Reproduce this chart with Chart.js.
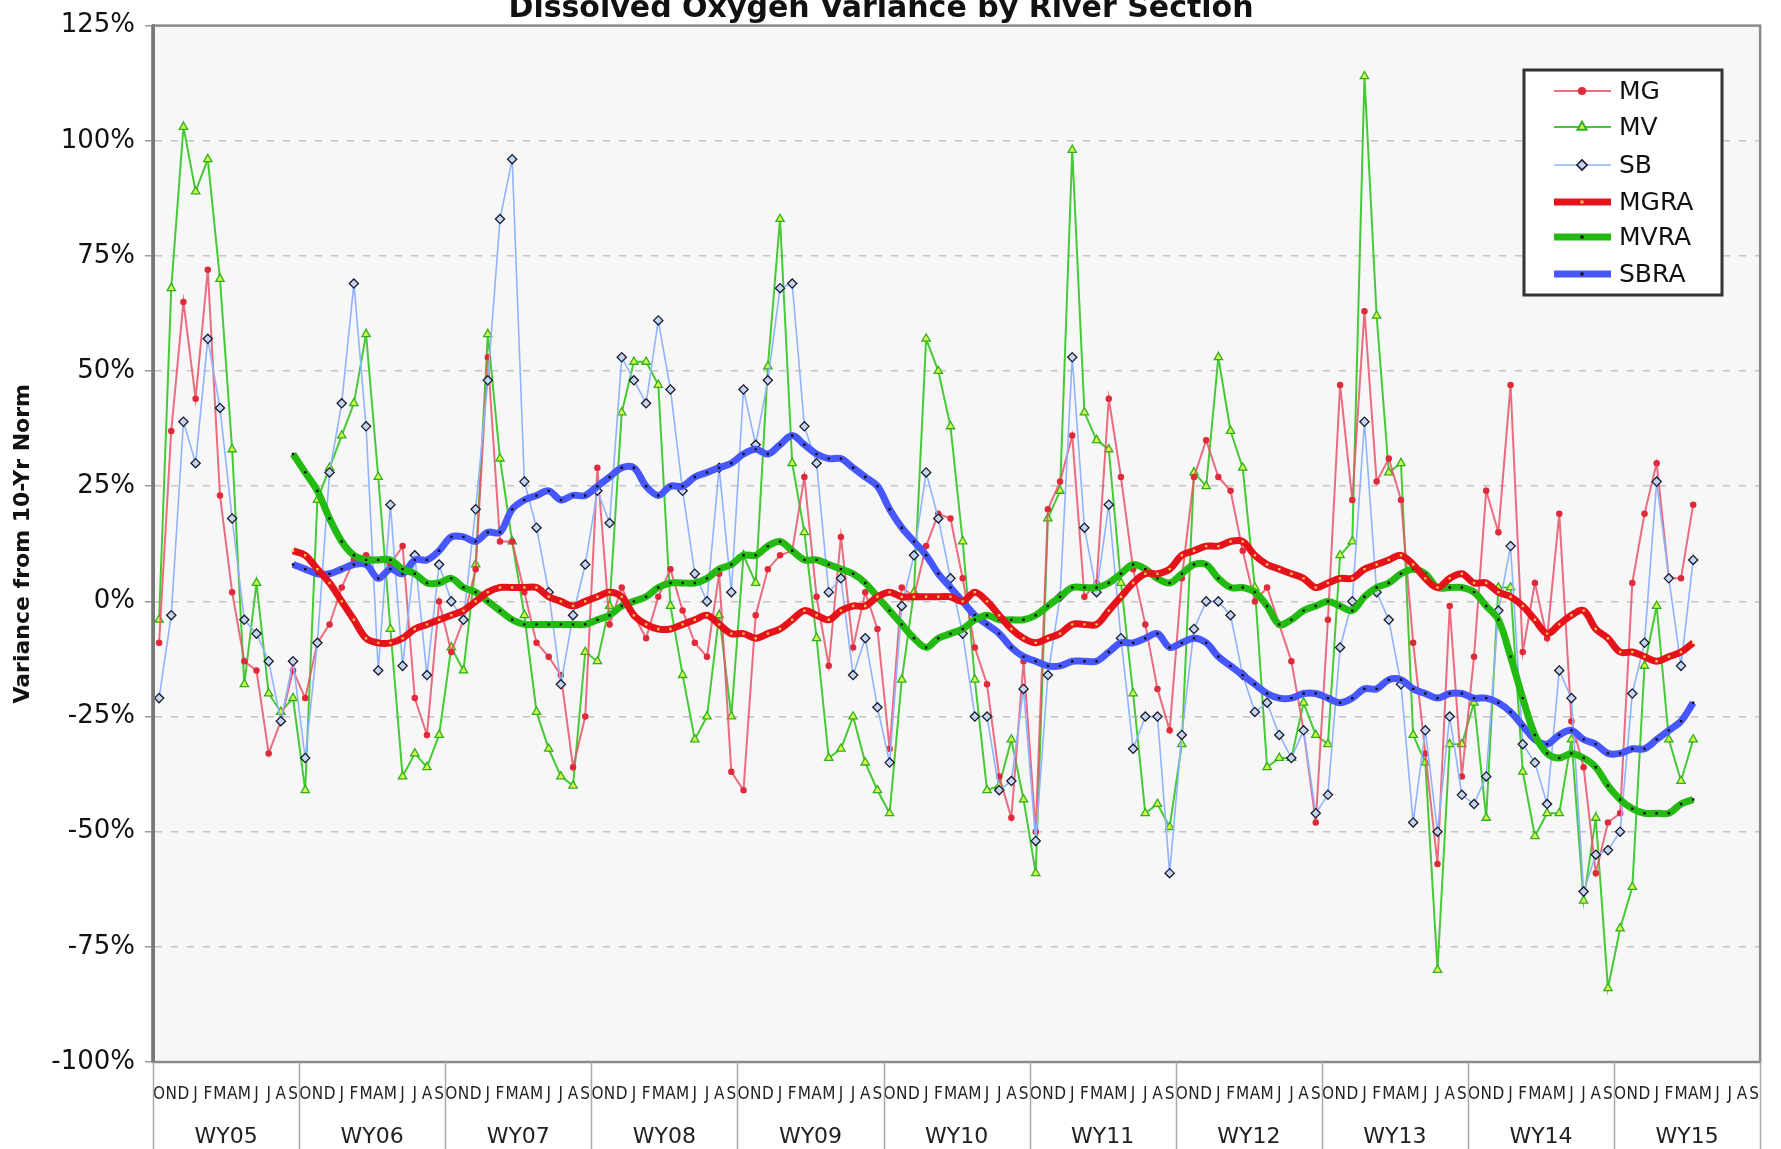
<!DOCTYPE html>
<html>
<head>
<meta charset="utf-8">
<title>Dissolved Oxygen Variance by River Section</title>
<script src="https://cdn.jsdelivr.net/npm/chart.js@4.4.1/dist/chart.umd.min.js"></script>
<style>
  html, body { margin: 0; padding: 0; background: #fff; }
  #wrap { width: 1781px; height: 1149px; position: relative; }
</style>
</head>
<body>
<div id="wrap"><canvas id="doChart"></canvas></div>
<script>
// Water years and month letters (Oct..Sep)
const waterYears = ["WY05", "WY06", "WY07", "WY08", "WY09", "WY10", "WY11", "WY12", "WY13", "WY14", "WY15"];
const monthLetters = ["O", "N", "D", "J", "F", "M", "A", "M", "J", "J", "A", "S"];
const yTickValues = [125, 100, 75, 50, 25, 0, -25, -50, -75, -100];

// Monthly variance from 10-yr norm (%), Oct 2004 .. Apr 2015
const mgValues = [
  -9, 37, 65, 44, 72, 23, 2, -13, -15, -33, -26, -15,
  -21, -9, -5, 3, 9, 10, 9, 8, 12, -21, -29, 0,
  -11, -4, 7, 53, 13, 13, 2, -9, -12, -16, -36, -25,
  29, -5, 3, -3, -8, 1, 7, -2, -9, -12, 6, -37,
  -41, -3, 7, 10, 11, 27, 1, -14, 14, -10, 2, -6,
  -32, 3, 1, 12, 19, 18, 5, -10, -18, -38, -47, -13,
  -50, 20, 26, 36, 1, 4, 44, 27, 7, -5, -19, -28,
  5, 27, 35, 27, 24, 11, 0, 3, -5, -13, -28, -48,
  -4, 47, 22, 63, 26, 31, 22, -9, -33, -57, -1, -38,
  -12, 24, 15, 47, -11, 4, -8, 19, -26, -36, -59, -48,
  -46, 4, 19, 30, 5, 5, 21
];
const mvValues = [
  -4, 68, 103, 89, 96, 70, 33, -18, 4, -20, -24, -21,
  -41, 22, 29, 36, 43, 58, 27, -6, -38, -33, -36, -29,
  -10, -15, 8, 58, 31, 13, -3, -24, -32, -38, -40, -11,
  -13, -1, 41, 52, 52, 47, -1, -16, -30, -25, -3, -25,
  10, 4, 51, 83, 30, 15, -8, -34, -32, -25, -35, -41,
  -46, -17, 2, 57, 50, 38, 13, -17, -41, -40, -30, -43,
  -59, 18, 24, 98, 41, 35, 33, 4, -20, -46, -44, -49,
  -31, 28, 25, 53, 37, 29, 3, -36, -34, -34, -22, -29,
  -31, 10, 13, 114, 62, 28, 30, -29, -35, -80, -31, -31,
  -22, -47, 3, 3, -37, -51, -46, -46, -30, -65, -47, -84,
  -71, -62, -14, -1, -30, -39, -30
];
const sbValues = [
  -21, -3, 39, 30, 57, 42, 18, -4, -7, -13, -26, -13,
  -34, -9, 28, 43, 69, 38, -15, 21, -14, 10, -16, 8,
  0, -4, 20, 48, 83, 96, 26, 16, 2, -18, -3, 8,
  24, 17, 53, 48, 43, 61, 46, 24, 6, 0, 29, 2,
  46, 34, 48, 68, 69, 38, 30, 2, 5, -16, -8, -23,
  -35, -1, 10, 28, 18, 5, -7, -25, -25, -41, -39, -19,
  -52, -16, 1, 53, 16, 2, 21, -8, -32, -25, -25, -59,
  -29, -6, 0, 0, -3, -16, -24, -22, -29, -34, -28, -46,
  -42, -10, 0, 39, 2, -4, -18, -48, -28, -50, -25, -42,
  -44, -38, -2, 12, -31, -35, -44, -15, -21, -63, -55, -54,
  -50, -20, -9, 26, 5, -14, 9
];

// 12-month running averages (start in Sep of WY05)
const mgraValues = [
  null, null, null, null, null, null, null, null, null, null, null, 11,
  10, 7, 4, 0, -4, -8, -9, -9, -8, -6, -5, -4,
  -3, -2, 0, 2, 3, 3, 3, 3, 1, 0, -1, 0,
  1, 2, 1, -3, -5, -6, -6, -5, -4, -3, -5, -7,
  -7, -8, -7, -6, -4, -2, -3, -4, -2, -1, -1, 1,
  2, 1, 1, 1, 1, 1, 0, 2, 0, -3, -6, -8,
  -9, -8, -7, -5, -5, -5, -2, 1, 4, 6, 6, 7,
  10, 11, 12, 12, 13, 13, 10, 8, 7, 6, 5, 3,
  4, 5, 5, 7, 8, 9, 10, 8, 5, 3, 5, 6,
  4, 4, 2, 1, -1, -4, -7, -5, -3, -2, -6, -8,
  -11, -11, -12, -13, -12, -11, -9
];
const mvraValues = [
  null, null, null, null, null, null, null, null, null, null, null, 32,
  28, 24, 18, 13, 10, 9, 9, 9, 7, 6, 4, 4,
  5, 3, 2, 0, -2, -4, -5, -5, -5, -5, -5, -5,
  -4, -3, -1, 0, 1, 3, 4, 4, 4, 5, 7, 8,
  10, 10, 12, 13, 11, 9, 9, 8, 7, 6, 4, 1,
  -2, -5, -8, -10, -8, -7, -6, -4, -3, -4, -4, -4,
  -3, -1, 1, 3, 3, 3, 4, 6, 8, 7, 5, 4,
  6, 8, 8, 5, 3, 3, 2, -1, -5, -4, -2, -1,
  0, -1, -2, 1, 3, 4, 6, 7, 6, 3, 3, 3,
  2, -1, -4, -12, -21, -29, -33, -34, -33, -34, -36, -40,
  -43, -45, -46, -46, -46, -44, -43
];
const sbraValues = [
  null, null, null, null, null, null, null, null, null, null, null, 8,
  7, 6, 6, 7, 8, 8, 5, 7, 6, 9, 9, 11,
  14, 14, 13, 15, 15, 20, 22, 23, 24, 22, 23, 23,
  25, 27, 29, 29, 25, 23, 25, 25, 27, 28, 29, 30,
  32, 33, 32, 34, 36, 34, 32, 31, 31, 29, 27, 25,
  20, 16, 13, 10, 6, 3, 0, -3, -5, -7, -10, -12,
  -13, -14, -14, -13, -13, -13, -11, -9, -9, -8, -7, -10,
  -9, -8, -9, -12, -14, -16, -18, -20, -21, -21, -20, -20,
  -21, -22, -21, -19, -19, -17, -17, -19, -20, -21, -20, -20,
  -21, -21, -22, -24, -27, -30, -31, -29, -28, -30, -31, -33,
  -33, -32, -32, -30, -28, -26, -22
];

const monthLabels = waterYears.flatMap(() => monthLetters);
const FONT = "'DejaVu Sans', Verdana, sans-serif";

function thinLine(label, data, color, width, style, radius, fill, edge, order) {
  return {
    label, data, order,
    borderColor: color, borderWidth: width, tension: 0,
    pointStyle: style, pointRadius: radius, pointHoverRadius: radius,
    pointBackgroundColor: fill, pointBorderColor: edge, pointBorderWidth: 1.3,
    spanGaps: false
  };
}
function thickLine(label, data, color, dot, order) {
  return {
    label, data, order,
    borderColor: color, borderWidth: 7, tension: 0.35,
    pointStyle: "rect", pointRadius: 1.7, pointHoverRadius: 1.7,
    pointBackgroundColor: dot, pointBorderWidth: 0,
    spanGaps: false
  };
}

const datasets = [
  thinLine("MG", mgValues, "rgba(232, 84, 104, 0.85)", 2, "circle", 2.6, "#e02a3a", "#e02a3a", 4),
  thinLine("MV", mvValues, "#45c935", 2, "triangle", 4.8, "#d6f545", "#2fb020", 5),
  thinLine("SB", sbValues, "#8fb3ff", 1.6, "rectRot", 4.6, "#c3d6f2", "#1b1b2b", 3),
  thickLine("MGRA", mgraValues, "#e5121c", "#f4c14a", 0),
  thickLine("MVRA", mvraValues, "#23bb12", "#111", 1),
  thickLine("SBRA", sbraValues, "#4757ff", "#111", 2)
];

const decor = {
  id: "decor",
  beforeDraw(chart) {
    const { ctx, chartArea: a } = chart;
    ctx.save();
    ctx.fillStyle = "#f7f7f7";
    ctx.fillRect(a.left, a.top, a.right - a.left, a.bottom - a.top);
    ctx.restore();
  },
  afterDraw(chart) {
    const { ctx, chartArea: a } = chart;
    const xs = chart.scales.x;
    ctx.save();

    // plot frame
    ctx.strokeStyle = "#8a8a8a";
    ctx.lineWidth = 2.5;
    ctx.strokeRect(a.left, a.top, a.right - a.left, a.bottom - a.top);
    ctx.strokeStyle = "#777";
    ctx.lineWidth = 3.5;
    ctx.beginPath();
    ctx.moveTo(a.left, a.top);
    ctx.lineTo(a.left, a.bottom);
    ctx.stroke();

    // year separators under the axis
    ctx.strokeStyle = "#a8a8a8";
    ctx.lineWidth = 1.5;
    for (let k = 0; k <= waterYears.length; k++) {
      const x = Math.round(xs.getPixelForValue(k * 12 - 0.5)) + 0.5;
      ctx.beginPath();
      ctx.moveTo(x, a.bottom);
      ctx.lineTo(x, chart.height);
      ctx.stroke();
    }

    // title (clipped at the top like the source)
    ctx.fillStyle = "#111";
    ctx.font = "bold 30px " + FONT;
    ctx.textAlign = "center";
    ctx.textBaseline = "alphabetic";
    ctx.fillText("Dissolved Oxygen Variance by River Section", 881, 17);

    // y-axis title
    ctx.save();
    ctx.translate(23, (a.top + a.bottom) / 2);
    ctx.rotate(-Math.PI / 2);
    ctx.font = "bold 22px " + FONT;
    ctx.textBaseline = "middle";
    ctx.fillText("Variance from 10-Yr Norm", 0, 0);
    ctx.restore();

    // legend
    const bx = 1524, by = 70, bw = 198, bh = 225;
    ctx.fillStyle = "#fff";
    ctx.fillRect(bx, by, bw, bh);
    ctx.strokeStyle = "#333";
    ctx.lineWidth = 3;
    ctx.strokeRect(bx, by, bw, bh);
    const rowY = [91, 127, 165, 202, 237, 274];
    ctx.font = "25px " + FONT;
    ctx.textAlign = "left";
    ctx.textBaseline = "middle";
    chart.data.datasets.forEach((ds, i) => {
      const y = rowY[i];
      ctx.strokeStyle = ds.borderColor;
      ctx.lineWidth = ds.borderWidth;
      ctx.beginPath();
      ctx.moveTo(1554, y);
      ctx.lineTo(1611, y);
      ctx.stroke();
      ctx.fillStyle = ds.pointBackgroundColor;
      ctx.strokeStyle = ds.pointBorderColor || ds.pointBackgroundColor;
      Chart.helpers.drawPoint(ctx, {
        pointStyle: ds.pointStyle, radius: ds.pointRadius + 0.5,
        rotation: 0, borderWidth: ds.pointBorderWidth
      }, 1582, y);
      ctx.fillStyle = "#111";
      ctx.fillText(ds.label, 1619, y + 1);
    });
    ctx.restore();
  }
};

new Chart(document.getElementById("doChart"), {
  type: "line",
  data: { labels: monthLabels, datasets },
  options: {
    responsive: true,
    maintainAspectRatio: false,
    animation: false,
    layout: { padding: { top: 20, right: 20, left: 0, bottom: 0 } },
    plugins: { legend: { display: false }, tooltip: { enabled: false }, title: { display: false } },
    scales: {
      x: {
        type: "category",
        offset: true,
        weight: 0,
        grid: { display: false, drawTicks: false },
        border: { display: true, color: "#777", width: 2 },
        ticks: {
          autoSkip: false, maxRotation: 0, minRotation: 0, padding: 22,
          color: "#222", font: { family: "'DejaVu Sans Condensed', 'Liberation Sans Narrow', sans-serif", size: 17 }
        },
        afterFit(scale) { scale.height = 50; }
      },
      x2: {
        type: "linear",
        position: "bottom",
        weight: 1,
        min: -0.5,
        max: monthLabels.length - 0.5,
        grid: { display: false, drawTicks: false },
        border: { display: false },
        afterBuildTicks(scale) {
          scale.ticks = waterYears.map((_, k) => ({ value: k * 12 + 5.5 }));
        },
        ticks: {
          padding: 12, color: "#222", font: { family: FONT, size: 22 },
          callback: (v) => waterYears[Math.round((v - 5.5) / 12)]
        },
        afterFit(scale) { scale.height = 37; }
      },
      y: {
        min: -100,
        max: 125,
        grid: { color: "#c4c4c4", lineWidth: 1.5, tickLength: 8, tickColor: "#999" },
        border: { display: true, color: "#777", width: 3, dash: [7, 9] },
        afterBuildTicks(scale) {
          scale.ticks = yTickValues.map(v => ({ value: v }));
        },
        ticks: {
          padding: 10, color: "#111", font: { family: FONT, size: 26 },
          callback: (v) => v + "%"
        },
        afterFit(scale) { scale.width = 153; }
      }
    }
  },
  plugins: [decor]
});
</script>
</body>
</html>
